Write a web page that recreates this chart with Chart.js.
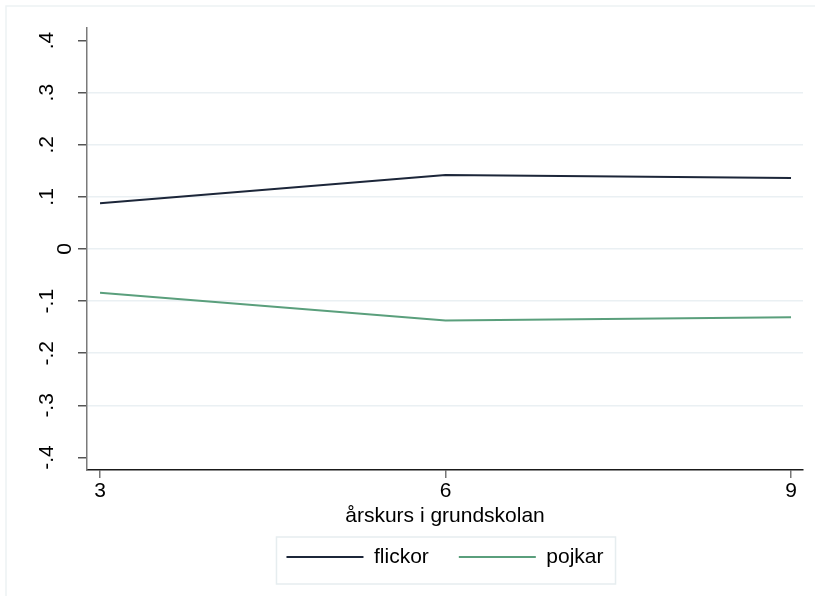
<!DOCTYPE html>
<html lang="sv">
<head>
  <meta charset="UTF-8">
  <title>årskurs i grundskolan</title>
  <script src="https://cdn.jsdelivr.net/npm/chart.js"></script>
  <style>
    html, body { margin: 0; padding: 0; background: #fff; }
    #wrap { position: relative; width: 815px; height: 596px; }
  </style>
</head>
<body>
  <div id="wrap"><canvas id="chart"></canvas></div>
  <script>
    // --- data ---
    const grades = [3, 6, 9];
    const flickor = [0.088, 0.142, 0.136];
    const pojkar = [-0.084, -0.137, -0.131];
    const yTicks = [-0.4, -0.3, -0.2, -0.1, 0, 0.1, 0.2, 0.3, 0.4];
    const xTicks = [3, 6, 9];
    const seriesNames = ['flickor', 'pojkar'];

    const FONT = "'Liberation Sans', Arial, sans-serif";

    // Stata-style labels: .4, -.1, 0
    function fmt(v) {
      if (Math.abs(v) < 1e-9) return '0';
      return v.toFixed(1).replace('0.', '.');
    }

    // light outer frame of the graph region (only top/left show)
    const framePlugin = {
      id: 'frame',
      beforeDraw(chart) {
        const c = chart.ctx;
        c.save();
        c.strokeStyle = '#edf2f4';
        c.lineWidth = 1.5;
        c.strokeRect(6, 6, chart.width + 20, chart.height + 20);
        c.restore();
      }
    };

    // rotated y tick labels
    const yLabelPlugin = {
      id: 'yLabels',
      afterDraw(chart) {
        const s = chart.scales.y;
        const c = chart.ctx;
        c.save();
        c.font = '21px ' + FONT;
        c.fillStyle = '#000';
        c.textAlign = 'center';
        c.textBaseline = 'alphabetic';
        s.ticks.forEach(t => {
          const y = s.getPixelForValue(t.value);
          const x = Math.abs(t.value) < 1e-9 ? 71 : 53;
          c.save();
          c.translate(x, y);
          c.rotate(-Math.PI / 2);
          c.fillText(fmt(t.value), 0, 0);
          c.restore();
        });
        c.restore();
      }
    };

    // border around the legend
    const legendBoxPlugin = {
      id: 'legendBox',
      afterDraw(chart) {
        const boxes = chart.legend && chart.legend.legendHitBoxes;
        if (!boxes || !boxes.length) return;
        const first = boxes[0], last = boxes[boxes.length - 1];
        const left = first.left - 10;
        const right = last.left + last.width + 12;
        const cy = first.top + first.height / 2;
        const c = chart.ctx;
        c.save();
        c.strokeStyle = '#e6edef';
        c.lineWidth = 1.5;
        c.strokeRect(left, cy - 20, right - left, 47);
        c.restore();
      }
    };

    const ctx = document.getElementById('chart').getContext('2d');
    const chart = new Chart(ctx, {
      type: 'line',
      data: {
        datasets: [
          {
            label: seriesNames[0],
            data: grades.map((g, i) => ({ x: g, y: flickor[i] })),
            borderColor: '#1c2639',
            backgroundColor: '#1c2639',
            borderWidth: 2,
            pointRadius: 0,
            tension: 0
          },
          {
            label: seriesNames[1],
            data: grades.map((g, i) => ({ x: g, y: pojkar[i] })),
            borderColor: '#5a9f7c',
            backgroundColor: '#5a9f7c',
            borderWidth: 2,
            pointRadius: 0,
            tension: 0
          }
        ]
      },
      options: {
        responsive: true,
        maintainAspectRatio: false,
        animation: false,
        layout: { padding: { left: 0, right: 12, top: 28, bottom: 18.5 } },
        plugins: {
          tooltip: { enabled: false },
          legend: {
            position: 'bottom',
            fullSize: false,
            labels: {
              usePointStyle: true,
              pointStyle: 'line',
              pointStyleWidth: 77,
              color: '#000',
              font: { family: FONT, size: 21 },
              padding: 30
            }
          }
        },
        scales: {
          x: {
            type: 'linear',
            min: 2.887,
            max: 9.104,
            afterBuildTicks: s => { s.ticks = xTicks.map(v => ({ value: v })); },
            afterFit: s => { s.height = 46.5; },
            border: { display: true, color: '#1a1a1a', width: 1.5 },
            grid: { drawOnChartArea: false, drawTicks: true, tickLength: 8, tickColor: '#777', lineWidth: 1.5 },
            ticks: { color: '#000', font: { family: FONT, size: 21 }, padding: 1, maxRotation: 0 },
            title: {
              display: true,
              text: 'årskurs i grundskolan',
              color: '#000',
              font: { family: FONT, size: 21 },
              padding: { top: 0, bottom: -12 }
            }
          },
          y: {
            min: -0.424,
            max: 0.424,
            afterBuildTicks: s => { s.ticks = yTicks.map(v => ({ value: v })); },
            afterFit: s => { s.width = 87; },
            border: { display: true, color: '#7a7a7a', width: 1.5 },
            grid: {
              color: c => (c.tick && Math.abs(c.tick.value) > 0.35) ? 'rgba(0,0,0,0)' : '#eaf0f3',
              lineWidth: 1.5,
              drawTicks: true,
              tickLength: 9,
              tickColor: '#555'
            },
            ticks: { display: false }
          }
        }
      },
      plugins: [framePlugin, yLabelPlugin, legendBoxPlugin]
    });
  </script>
</body>
</html>
